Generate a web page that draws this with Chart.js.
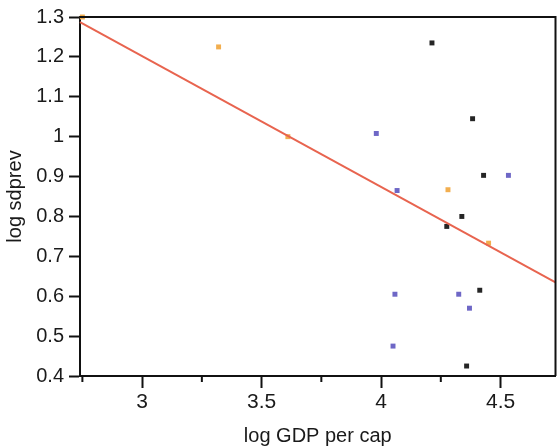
<!DOCTYPE html>
<html>
<head>
<meta charset="utf-8">
<script src="https://cdn.jsdelivr.net/npm/chart.js@4/dist/chart.umd.min.js"></script>
<style>
  body { margin: 0; background: #fff; }
</style>
</head>
<body>
<canvas id="scatterChart" width="559" height="448"></canvas>
<script>
// valeurs (log PIB par habitant, log sdprev)
const orangeX = [2.75, 3.32, 3.61, 4.28, 4.45];
const orangeY = [1.30, 1.225, 1.00, 0.867, 0.733];

const blueX = [3.98, 4.067, 4.533, 4.058, 4.05, 4.325, 4.37];
const blueY = [1.008, 0.865, 0.903, 0.605, 0.475, 0.605, 0.57];

const blackX = [4.213, 4.383, 4.429, 4.338, 4.275, 4.413, 4.358];
const blackY = [1.235, 1.045, 0.903, 0.80, 0.775, 0.615, 0.425];

// droite de régression (extrémités)
const fitX = [2.74, 4.73];
const fitY = [1.287, 0.635];

const xMajorTicks = [3, 3.5, 4, 4.5];
const xMinorTicks = [2.75, 3.25, 3.75, 4.25];

function toPoints(xs, ys) {
  return xs.map(function (x, i) { return { x: x, y: ys[i] }; });
}

// petits traits secondaires + cadre autour de la zone de tracé
const frameAndMinorTicks = {
  id: "frameAndMinorTicks",
  afterDraw: function (chart) {
    const ctx = chart.ctx;
    const area = chart.chartArea;
    const xScale = chart.scales.x;
    ctx.save();
    ctx.strokeStyle = "#111";
    ctx.lineWidth = 2;
    ctx.beginPath();
    ctx.moveTo(area.left, area.top);
    ctx.lineTo(area.right, area.top);
    ctx.lineTo(area.right, area.bottom);
    ctx.stroke();
    xMinorTicks.forEach(function (v) {
      const px = xScale.getPixelForValue(v);
      ctx.beginPath();
      ctx.moveTo(px, area.bottom);
      ctx.lineTo(px, area.bottom + 6);
      ctx.stroke();
    });
    ctx.restore();
  },
};

const pointStyle = {
  pointStyle: "rect",
  pointRadius: 3.5,
  pointHoverRadius: 3.5,
  pointBorderWidth: 0,
  clip: false,
};

new Chart(document.getElementById("scatterChart").getContext("2d"), {
  type: "scatter",
  data: {
    datasets: [
      {
        label: "fit",
        data: toPoints(fitX, fitY),
        showLine: true,
        borderColor: "#e8644f",
        borderWidth: 2,
        pointRadius: 0,
        clip: false,
      },
      Object.assign({
        label: "orange",
        data: toPoints(orangeX, orangeY),
        backgroundColor: "#f2ae4f",
        borderColor: "#f2ae4f",
      }, pointStyle),
      Object.assign({
        label: "blue",
        data: toPoints(blueX, blueY),
        backgroundColor: "#6e67c6",
        borderColor: "#6e67c6",
      }, pointStyle),
      Object.assign({
        label: "black",
        data: toPoints(blackX, blackY),
        backgroundColor: "#252525",
        borderColor: "#252525",
      }, pointStyle),
    ],
  },
  options: {
    responsive: false,
    animation: false,
    layout: { padding: { top: 16, right: 2, left: 0, bottom: 0 } },
    plugins: {
      legend: { display: false },
      tooltip: { enabled: false },
    },
    scales: {
      x: {
        type: "linear",
        min: 2.74,
        max: 4.73,
        afterBuildTicks: function (scale) {
          scale.ticks = xMajorTicks.map(function (v) { return { value: v }; });
        },
        afterFit: function (scale) { scale.height = 72; },
        grid: {
          drawOnChartArea: false,
          tickLength: 12,
          tickColor: "#111",
          tickWidth: 2,
        },
        border: { color: "#111", width: 2 },
        ticks: {
          color: "#1a1a1a",
          padding: 2,
          font: { family: "Liberation Sans", size: 21 },
          callback: function (v) { return String(v); },
        },
        title: {
          display: true,
          text: "log GDP per cap",
          color: "#1a1a1a",
          padding: { top: 0, bottom: 0 },
          font: { family: "Liberation Sans", size: 20 },
        },
      },
      y: {
        type: "linear",
        min: 0.4,
        max: 1.3,
        afterFit: function (scale) { scale.width = 80; },
        grid: {
          drawOnChartArea: false,
          tickLength: 11,
          tickColor: "#111",
          tickWidth: 2,
        },
        border: { color: "#111", width: 2 },
        ticks: {
          stepSize: 0.1,
          color: "#1a1a1a",
          padding: 5,
          font: { family: "Liberation Sans", size: 20 },
          callback: function (v) { return String(+v.toFixed(1)); },
        },
        title: {
          display: true,
          text: "log sdprev",
          color: "#1a1a1a",
          padding: { top: 3, bottom: 0 },
          font: { family: "Liberation Sans", size: 20 },
        },
      },
    },
  },
  plugins: [frameAndMinorTicks],
});
</script>
</body>
</html>
